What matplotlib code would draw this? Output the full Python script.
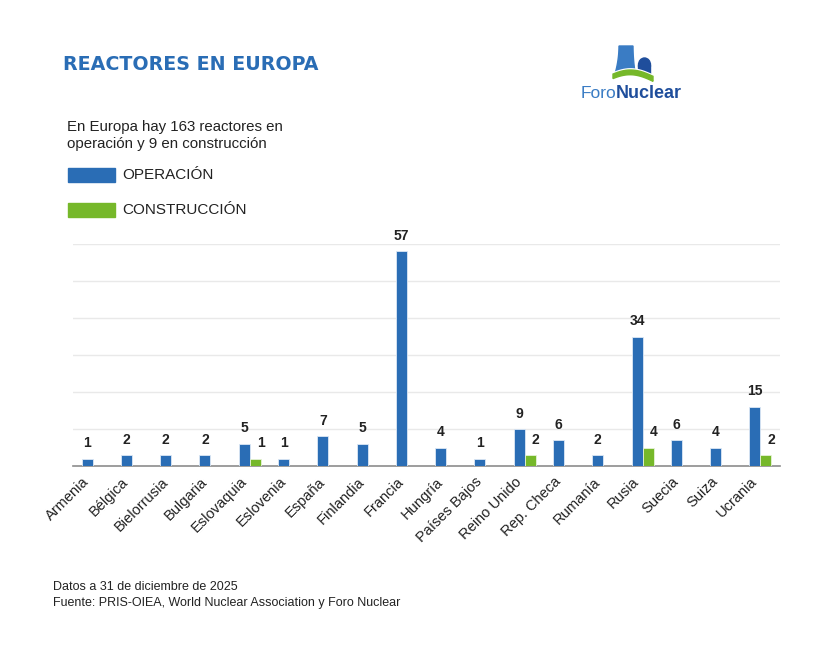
import matplotlib
matplotlib.use("Agg")
import matplotlib.pyplot as plt
import matplotlib.transforms as mtransforms
import numpy as np
from matplotlib.patches import Polygon, Rectangle, Ellipse

plt.rcParams['font.family'] = ['Liberation Sans', 'DejaVu Sans']

countries = ["Armenia", "Bélgica", "Bielorrusia", "Bulgaria", "Eslovaquia", "Eslovenia",
             "España", "Finlandia", "Francia", "Hungría", "Países Bajos", "Reino Unido",
             "Rep. Checa", "Rumanía", "Rusia", "Suecia", "Suiza", "Ucrania"]
operacion = [1, 2, 2, 2, 5, 1, 7, 5, 57, 4, 1, 9, 6, 2, 34, 6, 4, 15]
construccion = [0, 0, 0, 0, 1, 0, 0, 0, 0, 0, 0, 2, 0, 0, 4, 0, 0, 2]

BLUE = "#2a6db5"
GREEN = "#76b82a"
DARK = "#1f4e9c"
LOGO_BLUE = "#3a7cc4"

W, H = 833, 667
fig = plt.figure(figsize=(W / 100, H / 100), dpi=100)
fig.patch.set_facecolor("white")

# axis range: baseline sits slightly below zero, as in the original
YMIN, YMAX = -1, 59

x0, x1, yb, yt = 73, 780, 466, 244
ax = fig.add_axes([x0 / W, 1 - yb / H, (x1 - x0) / W, (yb - yt) / H])
n = len(countries)
x = np.arange(n)
bw = 0.28
op = np.array(operacion, dtype=float)
ax.bar(x - bw / 2, op - YMIN, bw, bottom=YMIN, color=BLUE, edgecolor="#dce8f5",
       linewidth=0.6, zorder=3)
cx = [i for i in range(n) if construccion[i] > 0]
cv = np.array([construccion[i] for i in cx], dtype=float)
ax.bar(x[cx] + bw / 2, cv - YMIN, bw, bottom=YMIN, color=GREEN,
       edgecolor="#e6f2d8", linewidth=0.6, zorder=3)

ax.set_xlim(-0.5, n - 0.5)
ax.set_ylim(YMIN, YMAX)
ax.set_yticks(np.arange(YMIN + 10, YMAX + 0.1, 10))
ax.yaxis.grid(True, color="#e9e9e9", linewidth=1)
ax.set_axisbelow(True)
ax.tick_params(axis="y", length=0, labelleft=False)
ax.tick_params(axis="x", length=0, pad=4)
for s in ["top", "right", "left"]:
    ax.spines[s].set_visible(False)
ax.spines["bottom"].set_color("#8c8c8c")
ax.spines["bottom"].set_linewidth(1.2)
ax.set_xticks(x)
ax.set_xticklabels(countries, rotation=45, ha="right", va="center",
                   rotation_mode="anchor", fontsize=10.5, color="#222222")
offset = mtransforms.ScaledTranslation(-0.055, -0.08, fig.dpi_scale_trans)
for lab in ax.get_xticklabels():
    lab.set_transform(lab.get_transform() + offset)

for i in range(n):
    ax.annotate(str(operacion[i]), (x[i] - bw / 2, operacion[i]), xytext=(0, 6),
                textcoords="offset points", ha="center", va="bottom",
                fontsize=10, fontweight="bold", color="#222222")
    if construccion[i] > 0:
        ax.annotate(str(construccion[i]), (x[i] + bw / 2, construccion[i]), xytext=(4, 6),
                    textcoords="offset points", ha="center", va="bottom",
                    fontsize=10, fontweight="bold", color="#222222")

# overlay in pixel coordinates
ov = fig.add_axes([0, 0, 1, 1], zorder=5)
ov.set_xlim(0, W)
ov.set_ylim(H, 0)
ov.axis("off")
ov.patch.set_alpha(0)

ov.text(63, 64, "REACTORES EN EUROPA", fontsize=13.7, fontweight="bold", color=BLUE,
        va="center", ha="left", family=["DejaVu Sans"])
ov.text(67, 127, "En Europa hay 163 reactores en", fontsize=10.8, color="#222222",
        va="center", ha="left")
ov.text(67, 144, "operación y 9 en construcción", fontsize=10.8, color="#222222",
        va="center", ha="left")
ov.add_patch(Rectangle((68, 168), 47, 14, color=BLUE))
ov.text(122, 175, "OPERACIÓN", fontsize=11, color="#222222", va="center", ha="left")
ov.add_patch(Rectangle((68, 203), 47, 14, color=GREEN))
ov.text(122, 210, "CONSTRUCCIÓN", fontsize=11, color="#222222", va="center", ha="left")

ov.text(53, 587, "Datos a 31 de diciembre de 2025", fontsize=9, color="#222222",
        va="center", ha="left")
ov.text(53, 603, "Fuente: PRIS-OIEA, World Nuclear Association y Foro Nuclear",
        fontsize=9, color="#222222", va="center", ha="left")

# logo
ov.add_patch(Ellipse((644.5, 65), 12, 14, color=DARK, zorder=6))
ov.add_patch(Rectangle((638.5, 65), 12, 10, color=DARK, zorder=6))
tl = np.linspace(0, 1, 20)
left_x = 619 - 4 * tl ** 2
left_y = 46 + 28 * tl
right_x = 633 + 2 * tl ** 2
right_y = 46 + 26 * tl
tower = list(zip(left_x, left_y)) + list(zip(right_x[::-1], right_y[::-1]))
ov.add_patch(Polygon(tower, closed=True, color=LOGO_BLUE, zorder=7))
tt = np.linspace(0, 1, 40)
gx = 613 + 40 * tt
gtop = 77.5 - 7.5 * np.sin(np.pi * (0.15 + 0.8 * tt))
rim = list(zip(gx, gtop - 1.2)) + [(653, 82), (613, 82)]
ov.add_patch(Polygon(rim, closed=True, color="white", zorder=8))
gbot = gtop + 4.5 + 0.5 * tt
ground = list(zip(gx, gtop)) + list(zip(gx[::-1], gbot[::-1]))
ov.add_patch(Polygon(ground, closed=True, color=GREEN, zorder=9))
ov.text(581, 94, "Foro", fontsize=12.5, color=LOGO_BLUE, va="center", ha="left", zorder=9)
ov.text(615.5, 94, "Nuclear", fontsize=13, fontweight="bold", color=DARK, va="center",
        ha="left", zorder=9)

fig.savefig("out.png", dpi=100, facecolor="white")
